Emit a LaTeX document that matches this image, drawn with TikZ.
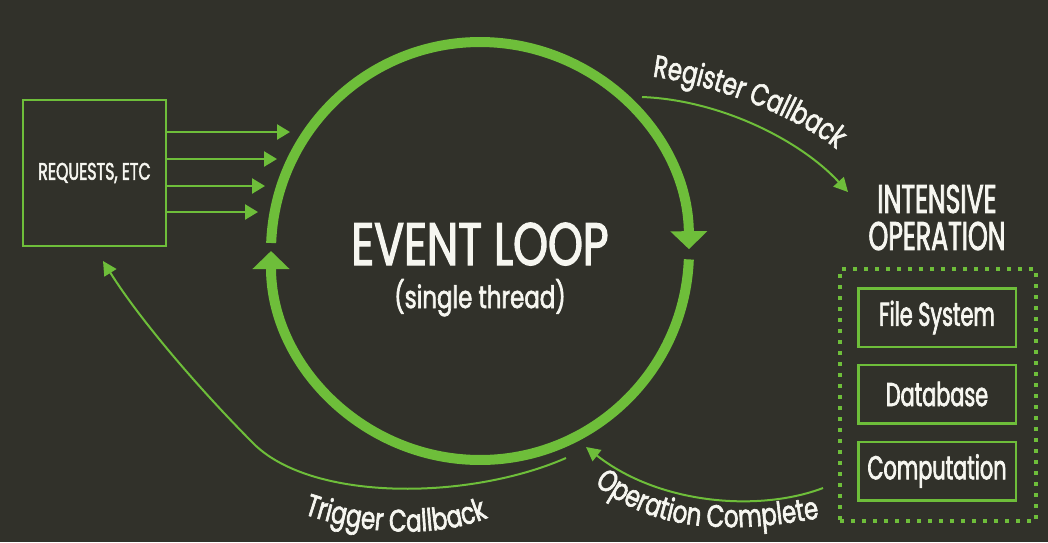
\documentclass[tikz,border=0pt]{standalone}
\usepackage{fontspec}
\newfontfamily\cfa{Poppins}[FakeStretch=0.74,FakeBold=2]
\newfontfamily\cfb{Poppins}[FakeStretch=0.66,FakeBold=2]
\newfontfamily\cfc{Poppins}[FakeStretch=0.63,FakeBold=2]
\usetikzlibrary{arrows.meta,decorations.text}
\definecolor{bgc}{RGB}{49,49,42}
\definecolor{grn}{RGB}{110,190,58}
\definecolor{txt}{RGB}{246,246,240}
\begin{document}
\begin{tikzpicture}[x=1pt,y=-1pt,
  ring/.style={line width=10pt, draw=grn, -{Triangle[length=18pt,width=36pt]}},
  thinarrow/.style={line width=2pt, draw=grn, -{Triangle[length=14pt,width=14pt]}},
  reqarrow/.style={line width=2.5pt, draw=grn, -{Triangle[length=13pt,width=15pt]}},
  opbox/.style={draw=grn, line width=2.5pt, minimum width=157.5pt, minimum height=58.5pt, inner sep=0pt, text=txt, font=\cfc\fontsize{33}{36}\selectfont},
  lbl/.style={text=txt, inner sep=0pt},
  pathlabel/.style={decorate, decoration={text along path, text align=center, text={|\cfa\fontsize{31}{31}\selectfont\color{txt}|#1}}}
]
\fill[bgc] (0,0) rectangle (1048,542);
\useasboundingbox (0,0) rectangle (1048,542);

% event loop ring
\coordinate (c) at (480,251);
\draw[ring] ([shift={(182.2:209)}]c) arc[start angle=182.2,end angle=359.5,radius=209];
\draw[ring] ([shift={(2.3:209)}]c) arc[start angle=2.3,end angle=180,radius=209];
\node[lbl, font=\cfa\fontsize{60}{60}\selectfont, anchor=base] (ev) at (480,265) {EVENT LOOP};
\node[lbl, font=\cfa\fontsize{31}{31}\selectfont, anchor=base] (st) at (480,308) {(single thread)};

% requests
\node[draw=grn, line width=2.5pt, minimum width=143pt, minimum height=146pt, inner sep=0pt, text=txt, font=\cfb\fontsize{24}{24}\selectfont] (req) at (94.5,173) {REQUESTS, ETC};
\foreach \yy/\xx [count=\i] in {132/290,159/277,186/265,212/258}{
  \coordinate (ra\i) at (\xx,\yy);
  \draw[reqarrow] (req.east |- ra\i) -- (ra\i);
}

% intensive operation
\node[lbl, align=center, font=\cfc\fontsize{40}{37}\selectfont] (io) at (937,217.5) {INTENSIVE\\OPERATION};
\node[draw=grn, line width=4pt, dash pattern=on 4pt off 7pt, minimum width=196pt, minimum height=252pt, inner sep=0pt] (ops) at (938,395) {};
\node[opbox] (fs) at (937,317.5) {File System};
\node[opbox] (db) at (937,394) {Database};
\node[opbox] (cp) at (937,471) {Computation};

% register callback
\coordinate (rcS) at (642,97);
\coordinate (rcE) at (848,192);
\draw[thinarrow] (rcS) .. controls (720,100) and (800,140) .. (rcE);
\path[pathlabel={Register Callback}] (648,76) .. controls (700,82) and (790,110) .. (840,152);

% operation complete
\coordinate (ocS) at (823,488);
\coordinate (ocE) at (586,447);
\draw[thinarrow] (ocS) .. controls (760,512) and (660,505) .. (ocE);
\path[pathlabel={Operation Complete}] (594,484) .. controls (640,520) and (700,540) .. (820,518);

% trigger callback
\coordinate (tcS) at (566,458);
\coordinate (tcE) at (103,261);
\draw[thinarrow] (tcS) .. controls (470,500) and (315,502) .. (255,445) .. controls (200,390) and (140,320) .. (tcE);
\path[pathlabel={Trigger Callback}] (298,512) .. controls (360,535) and (440,540) .. (494,515);
\end{tikzpicture}
\end{document}
